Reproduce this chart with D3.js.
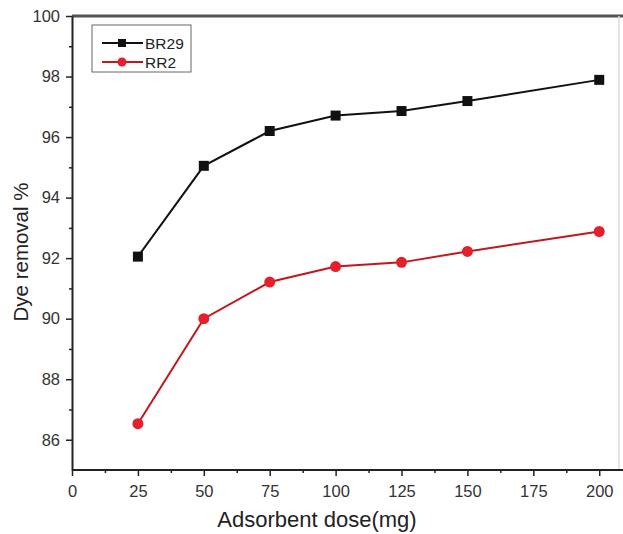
<!DOCTYPE html>
<html>
<head>
<meta charset="utf-8">
<script src="https://cdn.jsdelivr.net/npm/d3@7"></script>
<style>
  html, body { margin: 0; padding: 0; background: #fff; }
  svg { display: block; font-family: "Liberation Sans", Arial, sans-serif; }
</style>
</head>
<body>
<svg id="chart" width="623" height="534"></svg>
<script>
// Adsorbent dose (mg) and dye removal (%) for the two dyes
const doses = [25, 50, 75, 100, 125, 150, 200];
const br29 = [92.05, 95.05, 96.2, 96.71, 96.86, 97.19, 97.89];
const rr2 = [86.53, 90.0, 91.21, 91.72, 91.86, 92.22, 92.88];
const xTicks = [0, 25, 50, 75, 100, 125, 150, 175, 200];
const yTicks = [86, 88, 90, 92, 94, 96, 98, 100];
const seriesNames = ["BR29", "RR2"];

const svg = d3.select("#chart");
const plotL = 72, plotR = 619, plotT = 16, plotB = 470;

const x = d3.scaleLinear().domain([0, 207.5]).range([plotL, plotR]);
const y = d3.scaleLinear().domain([85, 100]).range([plotB, plotT]);

// frame: thick top edge, faint right edge
svg.append("line").attr("x1", plotL).attr("x2", 623).attr("y1", plotT).attr("y2", plotT)
  .attr("stroke", "#555").attr("stroke-width", 3);
svg.append("line").attr("x1", plotR).attr("x2", plotR).attr("y1", plotT).attr("y2", plotB)
  .attr("stroke", "#ddd").attr("stroke-width", 1.5);

// x axis: major ticks with labels, minor ticks between
const xAxis = d3.axisBottom(x).tickValues(xTicks).tickSize(6).tickSizeOuter(0).tickPadding(9);
const gx = svg.append("g").attr("transform", `translate(0,${plotB})`).call(xAxis);
gx.select(".domain").attr("stroke", "#222").attr("stroke-width", 2).attr("d", `M${plotL},0H623`);
gx.selectAll(".tick line").attr("stroke", "#222").attr("stroke-width", 1.5);
gx.selectAll(".tick text").attr("font-size", 16.5).attr("fill", "#333");
svg.append("g").attr("transform", `translate(0,${plotB})`)
  .call(d3.axisBottom(x).tickValues(d3.range(12.5, 207.5, 25)).tickSize(3).tickFormat(""))
  .call(g => g.select(".domain").remove())
  .selectAll(".tick line").attr("stroke", "#222").attr("stroke-width", 1.5);

// y axis
const yAxis = d3.axisLeft(y).tickValues(yTicks).tickSize(6).tickSizeOuter(0).tickPadding(6);
const gy = svg.append("g").attr("transform", `translate(${plotL},0)`).call(yAxis);
gy.select(".domain").attr("stroke", "#222").attr("stroke-width", 2);
gy.selectAll(".tick line").attr("stroke", "#222").attr("stroke-width", 1.5);
gy.selectAll(".tick text").attr("font-size", 16.5).attr("fill", "#333");
svg.append("g").attr("transform", `translate(${plotL},0)`)
  .call(d3.axisLeft(y).tickValues(d3.range(87, 100, 2)).tickSize(3).tickFormat(""))
  .call(g => g.select(".domain").remove())
  .selectAll(".tick line").attr("stroke", "#222").attr("stroke-width", 1.5);

// axis titles
svg.append("text").attr("x", 317).attr("y", 527)
  .attr("text-anchor", "middle").attr("font-size", 22).attr("fill", "#222")
  .text("Adsorbent dose(mg)");
svg.append("text").attr("transform", "translate(28,252) rotate(-90)")
  .attr("text-anchor", "middle").attr("font-size", 20.5).attr("fill", "#222")
  .text("Dye removal %");

// series
const line = d3.line().x((d, i) => x(doses[i])).y(d => y(d));
svg.append("path").datum(br29).attr("d", line)
  .attr("fill", "none").attr("stroke", "#111").attr("stroke-width", 2);
svg.append("path").datum(rr2).attr("d", line)
  .attr("fill", "none").attr("stroke", "#c0181f").attr("stroke-width", 2);

svg.append("g").selectAll("rect").data(br29).join("rect")
  .attr("x", (d, i) => x(doses[i]) - 5).attr("y", d => y(d) - 5)
  .attr("width", 10).attr("height", 10).attr("fill", "#111");
svg.append("g").selectAll("circle").data(rr2).join("circle")
  .attr("cx", (d, i) => x(doses[i])).attr("cy", d => y(d)).attr("r", 5.5)
  .attr("fill", "#e3202b");

// legend
const lg = svg.append("g");
lg.append("rect").attr("x", 92).attr("y", 25).attr("width", 99).attr("height", 47)
  .attr("fill", "#fff").attr("stroke", "#666").attr("stroke-width", 1);
seriesNames.forEach((name, i) => {
  const ly = 43 + i * 19;
  lg.append("line").attr("x1", 102).attr("x2", 143).attr("y1", ly).attr("y2", ly)
    .attr("stroke", i === 0 ? "#111" : "#c0181f").attr("stroke-width", 2);
  if (i === 0) {
    lg.append("rect").attr("x", 118).attr("y", ly - 4).attr("width", 8).attr("height", 8).attr("fill", "#111");
  } else {
    lg.append("circle").attr("cx", 122).attr("cy", ly).attr("r", 4.5).attr("fill", "#e3202b");
  }
  lg.append("text").attr("x", 145).attr("y", ly + 5.5).attr("font-size", 15.5).attr("fill", "#222").text(name);
});
</script>
</body>
</html>
